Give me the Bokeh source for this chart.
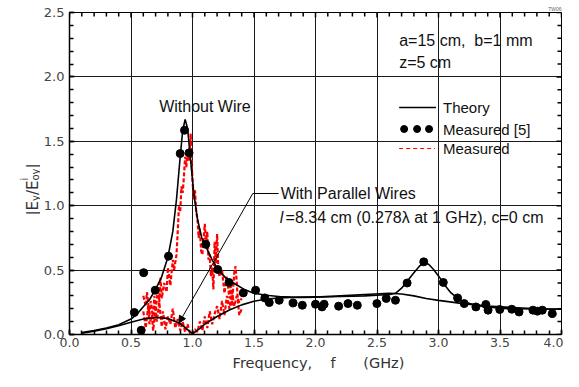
import numpy as np
from bokeh.plotting import figure
from bokeh.layouts import row, column
from bokeh.models import (Range1d, SingleIntervalTicker, PrintfTickFormatter,
                          Label, Arrow, NormalHead)
from bokeh.core.properties import value
from bokeh.embed import file_html
from bokeh.resources import INLINE

# ---------------- data ----------------
# Theory, without wire
theory_nowire_f = [0.1, 0.2, 0.3, 0.4, 0.5, 0.55, 0.6, 0.65, 0.7, 0.75, 0.8, 0.84, 0.87, 0.9, 0.92,
                   0.94, 0.96, 0.975, 0.99, 1.01, 1.04, 1.075, 1.11, 1.16, 1.21, 1.28, 1.35, 1.42, 1.5, 1.6,
                   1.7, 1.8, 1.9, 2.0, 2.2, 2.4, 2.6, 2.7, 2.8, 2.9, 3.0, 3.2, 3.4, 3.6, 3.8, 4.0]
theory_nowire_y = [0.016, 0.03, 0.05, 0.075, 0.12, 0.16, 0.215, 0.27, 0.35, 0.45, 0.6, 0.8, 1.05, 1.38, 1.58,
                   1.67, 1.6, 1.45, 1.3, 1.1, 0.9, 0.75, 0.68, 0.58, 0.5, 0.43, 0.39, 0.35, 0.32, 0.305,
                   0.295, 0.29, 0.288, 0.29, 0.3, 0.31, 0.32, 0.315, 0.3, 0.28, 0.265, 0.24, 0.22, 0.21, 0.2, 0.197]

# Theory, with parallel wires
theory_wire_f = [0.1, 0.2, 0.3, 0.4, 0.5, 0.6, 0.7, 0.8, 0.9, 0.95, 1.0, 1.05, 1.1, 1.2, 1.3,
                 1.4, 1.5, 1.6, 1.7, 1.8, 1.9, 2.0, 2.2, 2.4, 2.6, 2.65, 2.7, 2.75, 2.8, 2.85,
                 2.88, 2.92, 2.96, 3.0, 3.05, 3.1, 3.15, 3.2, 3.3, 3.4, 3.5, 3.6, 3.8, 4.0]
theory_wire_y = [0.01, 0.025, 0.045, 0.068, 0.095, 0.12, 0.132, 0.125, 0.085, 0.045, 0.005, 0.04, 0.08, 0.14, 0.19,
                 0.23, 0.258, 0.275, 0.283, 0.288, 0.29, 0.292, 0.295, 0.3, 0.31, 0.32, 0.36, 0.42, 0.48, 0.535,
                 0.555, 0.545, 0.505, 0.455, 0.385, 0.325, 0.285, 0.255, 0.228, 0.213, 0.205, 0.2, 0.198, 0.196]

# Measured [5] (dots)
ref5_f = [0.527, 0.583, 0.603, 0.697, 0.805, 0.90, 0.935, 0.972, 1.108, 1.205, 1.297, 1.413, 1.513, 1.588,
          1.624, 1.705, 1.818, 1.893, 2.0, 2.053, 2.07, 2.188, 2.264, 2.34, 2.499, 2.575, 2.65, 2.745,
          2.88, 3.039, 3.155, 3.209, 3.304, 3.385, 3.403, 3.498, 3.596, 3.655, 3.768, 3.804, 3.844, 3.925]
ref5_y = [0.171, 0.033, 0.48, 0.344, 0.608, 1.405, 1.586, 1.41, 0.70, 0.505, 0.404, 0.323, 0.344, 0.284,
          0.248, 0.266, 0.245, 0.227, 0.235, 0.214, 0.235, 0.22, 0.24, 0.227, 0.24, 0.28, 0.266, 0.40,
          0.564, 0.404, 0.284, 0.24, 0.214, 0.233, 0.189, 0.194, 0.196, 0.175, 0.189, 0.181, 0.189, 0.163]

# Measured (red dashed) - without wire
meas_nowire_f = [0.60, 0.62, 0.63, 0.65, 0.66, 0.68, 0.69, 0.70, 0.72, 0.73, 0.74, 0.75, 0.77, 0.79, 0.80,
                 0.82, 0.84, 0.85, 0.87, 0.88, 0.89, 0.90, 0.91, 0.92, 0.93, 0.94, 0.95, 0.96, 0.97, 0.98,
                 0.985, 0.99, 1.00, 1.01, 1.02, 1.03, 1.04, 1.05, 1.06, 1.07, 1.08, 1.10, 1.11, 1.12, 1.13,
                 1.14, 1.15, 1.16, 1.17, 1.18, 1.19, 1.20, 1.21, 1.22, 1.24, 1.26, 1.28, 1.30, 1.31, 1.32,
                 1.33, 1.34, 1.35, 1.36, 1.37, 1.38, 1.40]
meas_nowire_y = [0.30, 0.22, 0.33, 0.15, 0.26, 0.12, 0.30, 0.18, 0.36, 0.25, 0.44, 0.28, 0.40, 0.33, 0.52,
                 0.38, 0.58, 0.50, 0.62, 0.80, 1.00, 0.95, 1.15, 1.10, 1.22, 1.38, 1.30, 1.42, 1.35, 1.48,
                 1.56, 1.40, 1.20, 1.05, 1.12, 0.95, 0.90, 0.75, 0.82, 0.65, 0.62, 0.86, 0.70, 0.80, 0.58,
                 0.62, 0.45, 0.52, 0.35, 0.72, 0.55, 0.78, 0.50, 0.45, 0.50, 0.32, 0.45, 0.28, 0.40, 0.22,
                 0.35, 0.48, 0.53, 0.40, 0.25, 0.15, 0.20]

# Measured (red dashed) - with parallel wires
meas_wire_f = [0.60, 0.62, 0.64, 0.65, 0.67, 0.68, 0.70, 0.71, 0.73, 0.75, 0.76, 0.78, 0.80, 0.82, 0.84,
               0.86, 0.88, 0.90, 0.92, 0.94, 0.96, 0.98, 1.00, 1.02, 1.04, 1.06, 1.08, 1.10, 1.12, 1.14,
               1.16, 1.18, 1.20, 1.22, 1.24, 1.26, 1.28, 1.30, 1.32, 1.34, 1.36, 1.38, 1.40]
meas_wire_y = [0.18, 0.05, 0.22, 0.08, 0.15, 0.03, 0.20, 0.10, 0.25, 0.06, 0.18, 0.04, 0.14, 0.08, 0.20,
               0.05, 0.12, 0.03, 0.10, 0.02, 0.08, 0.01, 0.00, 0.04, 0.02, 0.10, 0.03, 0.14, 0.05, 0.18,
               0.08, 0.16, 0.22, 0.12, 0.26, 0.15, 0.30, 0.20, 0.33, 0.22, 0.30, 0.25, 0.28]

x_ticks = [0.0, 0.5, 1.0, 1.5, 2.0, 2.5, 3.0, 3.5, 4.0]
y_ticks = [0.0, 0.5, 1.0, 1.5, 2.0, 2.5]

for a, b in [(theory_nowire_f, theory_nowire_y), (theory_wire_f, theory_wire_y), (ref5_f, ref5_y),
             (meas_nowire_f, meas_nowire_y), (meas_wire_f, meas_wire_y)]:
    assert len(a) == len(b)

# ---------------- layout (pixel positions on the page) ----------------
TOTAL_W, TOTAL_H = 563, 371
YT_W = 40                       # left strip holding the rotated y title
XL_H = 15                       # bottom strip holding the x title
MAIN_H = TOTAL_H - XL_H
FL, FR, FT, FB = 67.0, 561.0, 12.0, 334.0   # frame edges
XMAX, YMAX = x_ticks[-1], y_ticks[-1]
PX_PER_X = (FR - FL) / XMAX
PX_PER_Y = (FB - FT) / YMAX

def dx(px):
    return (px - FL) / PX_PER_X
def dy(py):
    return (FB - py) / PX_PER_Y

SANS = "Liberation Sans"
DV = "DejaVu Sans"
NB = "\u00a0"

p = figure(width=TOTAL_W - YT_W, height=MAIN_H,
           x_range=Range1d(x_ticks[0], XMAX), y_range=Range1d(y_ticks[0], YMAX),
           output_backend="svg", toolbar_location=None,
           min_border_left=int(FL - YT_W), min_border_right=int(TOTAL_W - FR),
           min_border_top=int(FT), min_border_bottom=int(MAIN_H - FB))
p.background_fill_color = "white"
p.border_fill_color = "white"
p.outline_line_color = "black"
p.outline_line_width = 1

p.title.text = "TW06"
p.title.align = "right"
p.title.text_font = SANS
p.title.text_font_size = "5px"
p.title.text_font_style = "normal"
p.title.text_color = "#666666"
p.title.standoff = 1

xt = SingleIntervalTicker(interval=0.5, num_minor_ticks=5)
yt = SingleIntervalTicker(interval=0.5, num_minor_ticks=5)

def style_axis(ax, ticker):
    ax.ticker = ticker
    ax.axis_line_color = "black"
    ax.axis_line_width = 1.5
    ax.major_tick_in = 5
    ax.major_tick_out = 0
    ax.minor_tick_in = 4
    ax.minor_tick_out = 0
    ax.major_tick_line_color = "black"
    ax.minor_tick_line_color = "black"
    ax.major_tick_line_width = 1.5
    ax.minor_tick_line_width = 1.5
    ax.formatter = PrintfTickFormatter(format="%.1f")
    ax.major_label_text_font = DV
    ax.major_label_text_font_size = "13px"
    ax.major_label_text_color = "#444444"

xa = p.xaxis[0]
style_axis(xa, xt)
xa.major_label_text_font_size = "12.5px"
xa.major_label_standoff = 3

ya = p.yaxis[0]
style_axis(ya, yt)
ya.major_label_standoff = 5

p.xgrid.ticker = xt
p.ygrid.ticker = yt
for g in (p.xgrid[0], p.ygrid[0]):
    g.grid_line_color = "#1a1a1a"
    g.grid_line_width = 1
    g.grid_line_alpha = 1

# inward ticks on the top and right frame edges
minor_x = np.round(np.arange(x_ticks[0], XMAX + 1e-9, 0.1), 2)
minor_y = np.round(np.arange(y_ticks[0], YMAX + 1e-9, 0.1), 2)
tlen_x = np.where(np.isin(minor_x, x_ticks), 5, 4) / PX_PER_Y
tlen_y = np.where(np.isin(minor_y, y_ticks), 5, 4) / PX_PER_X
p.segment(x0=minor_x, y0=[YMAX] * len(minor_x), x1=minor_x, y1=YMAX - tlen_x,
          line_color="black", line_width=1.5)
p.segment(x0=[XMAX] * len(minor_y), y0=minor_y, x1=XMAX - tlen_y, y1=minor_y,
          line_color="black", line_width=1.5)

# ---------------- data renderers ----------------
red = "#ff0000"
p.line(meas_nowire_f, meas_nowire_y, line_color=red, line_width=2.2, line_dash="4 2")
p.line(meas_wire_f, meas_wire_y, line_color=red, line_width=2.2, line_dash="4 2")
p.line(theory_nowire_f, theory_nowire_y, line_color="black", line_width=1.6)
p.line(theory_wire_f, theory_wire_y, line_color="black", line_width=1.6)
p.scatter(ref5_f, ref5_y, size=8, marker="circle", fill_color="black", line_color="black")

# ---------------- legend (drawn by hand) ----------------
p.line([dx(398), dx(435)], [dy(107), dy(107)], line_color="black", line_width=1.6)
p.scatter([dx(403), dx(416), dx(428)], [dy(128.5)] * 3, size=7, marker="circle",
          fill_color="black", line_color="black")
p.line([dx(398), dx(434)], [dy(148), dy(148)], line_color=red, line_width=1, line_dash="4 3")

def lab(text, px, py, size="16px", align="left", baseline="middle", font=SANS, style="normal",
        color="#111111"):
    p.add_layout(Label(x=dx(px), y=dy(py), text=text, text_font=font, text_font_size=size,
                       text_align=align, text_baseline=baseline, text_color=color,
                       text_font_style=style))

lab("Theory", 442, 107, size="15px")
lab("Measured [5]", 442, 128.5, size="15px")
lab("Measured", 442, 148, size="15px")
lab("a=15 cm," + NB + NB + "b=1 mm", 398, 40)
lab("z=5 cm", 398, 62)
lab("Without Wire", 157, 106)
lab("With Parallel Wires", 279, 193)
lab("l", 278, 217, style="italic")
lab("=8.34 cm (0.278\u03bb at 1 GHz), c=0 cm", 284, 217)

# pointer for "With Parallel Wires"
elbow_x, elbow_y = dx(251), dy(193)
tip_f = 0.89
tip_y = float(np.interp(tip_f, theory_wire_f, theory_wire_y))
p.add_layout(Arrow(end=None, x_start=dx(277), y_start=elbow_y, x_end=elbow_x, y_end=elbow_y,
                   line_color="black", line_width=1))
p.add_layout(Arrow(end=NormalHead(size=7, fill_color="black", line_color="black"),
                   x_start=elbow_x, y_start=elbow_y, x_end=tip_f, y_end=tip_y,
                   line_color="black", line_width=1))

# ---------------- y-axis title strip: |E_y / E^i_oy| (rotated) ----------------
yt_fig = figure(width=YT_W, height=MAIN_H, x_range=Range1d(0, YT_W), y_range=p.y_range,
                title=None, output_backend="svg", toolbar_location=None,
                x_axis_type=None, y_axis_type=None,
                min_border_left=0, min_border_right=0,
                min_border_top=int(FT), min_border_bottom=int(MAIN_H - FB))
yt_fig.outline_line_color = None
yt_fig.background_fill_color = "white"
yt_fig.border_fill_color = "white"

ang = np.pi / 2
ycol = "#333333"
big_txt = ["|E", "/E", "|"]
big_x = [32, 32, 32]
big_y = [dy(215), dy(194.6), dy(168.1)]
small_txt = ["y", "i", "oy"]
small_x = [35, 24, 35]
small_y = [dy(200.5), dy(180.1), dy(180.1)]
yt_fig.text(x=big_x, y=big_y, text=big_txt, angle=ang, text_font=value(DV),
            text_font_size=value("15px"), text_align="left", text_baseline="alphabetic",
            text_color=ycol)
yt_fig.text(x=small_x, y=small_y, text=small_txt, angle=ang, text_font=value(DV),
            text_font_size=value("10px"), text_align="left", text_baseline="alphabetic",
            text_color=ycol)

# ---------------- x-axis title strip ----------------
xl_fig = figure(width=TOTAL_W, height=XL_H, x_range=Range1d(0, TOTAL_W), y_range=Range1d(0, XL_H),
                title=None, output_backend="svg", toolbar_location=None,
                x_axis_type=None, y_axis_type=None,
                min_border_left=0, min_border_right=0, min_border_top=0, min_border_bottom=0)
xl_fig.outline_line_color = None
xl_fig.background_fill_color = "white"
xl_fig.border_fill_color = "white"
xl_fig.text(x=[318], y=[8.2], text=["Frequency," + NB * 4 + "f" + NB * 6 + "(GHz)"],
            text_font=value(DV), text_font_size=value("14.5px"), text_align="center",
            text_baseline="middle", text_color="#333333")

layout = column(row(yt_fig, p), xl_fig)
open("out.html", "w").write(file_html(layout, INLINE))
